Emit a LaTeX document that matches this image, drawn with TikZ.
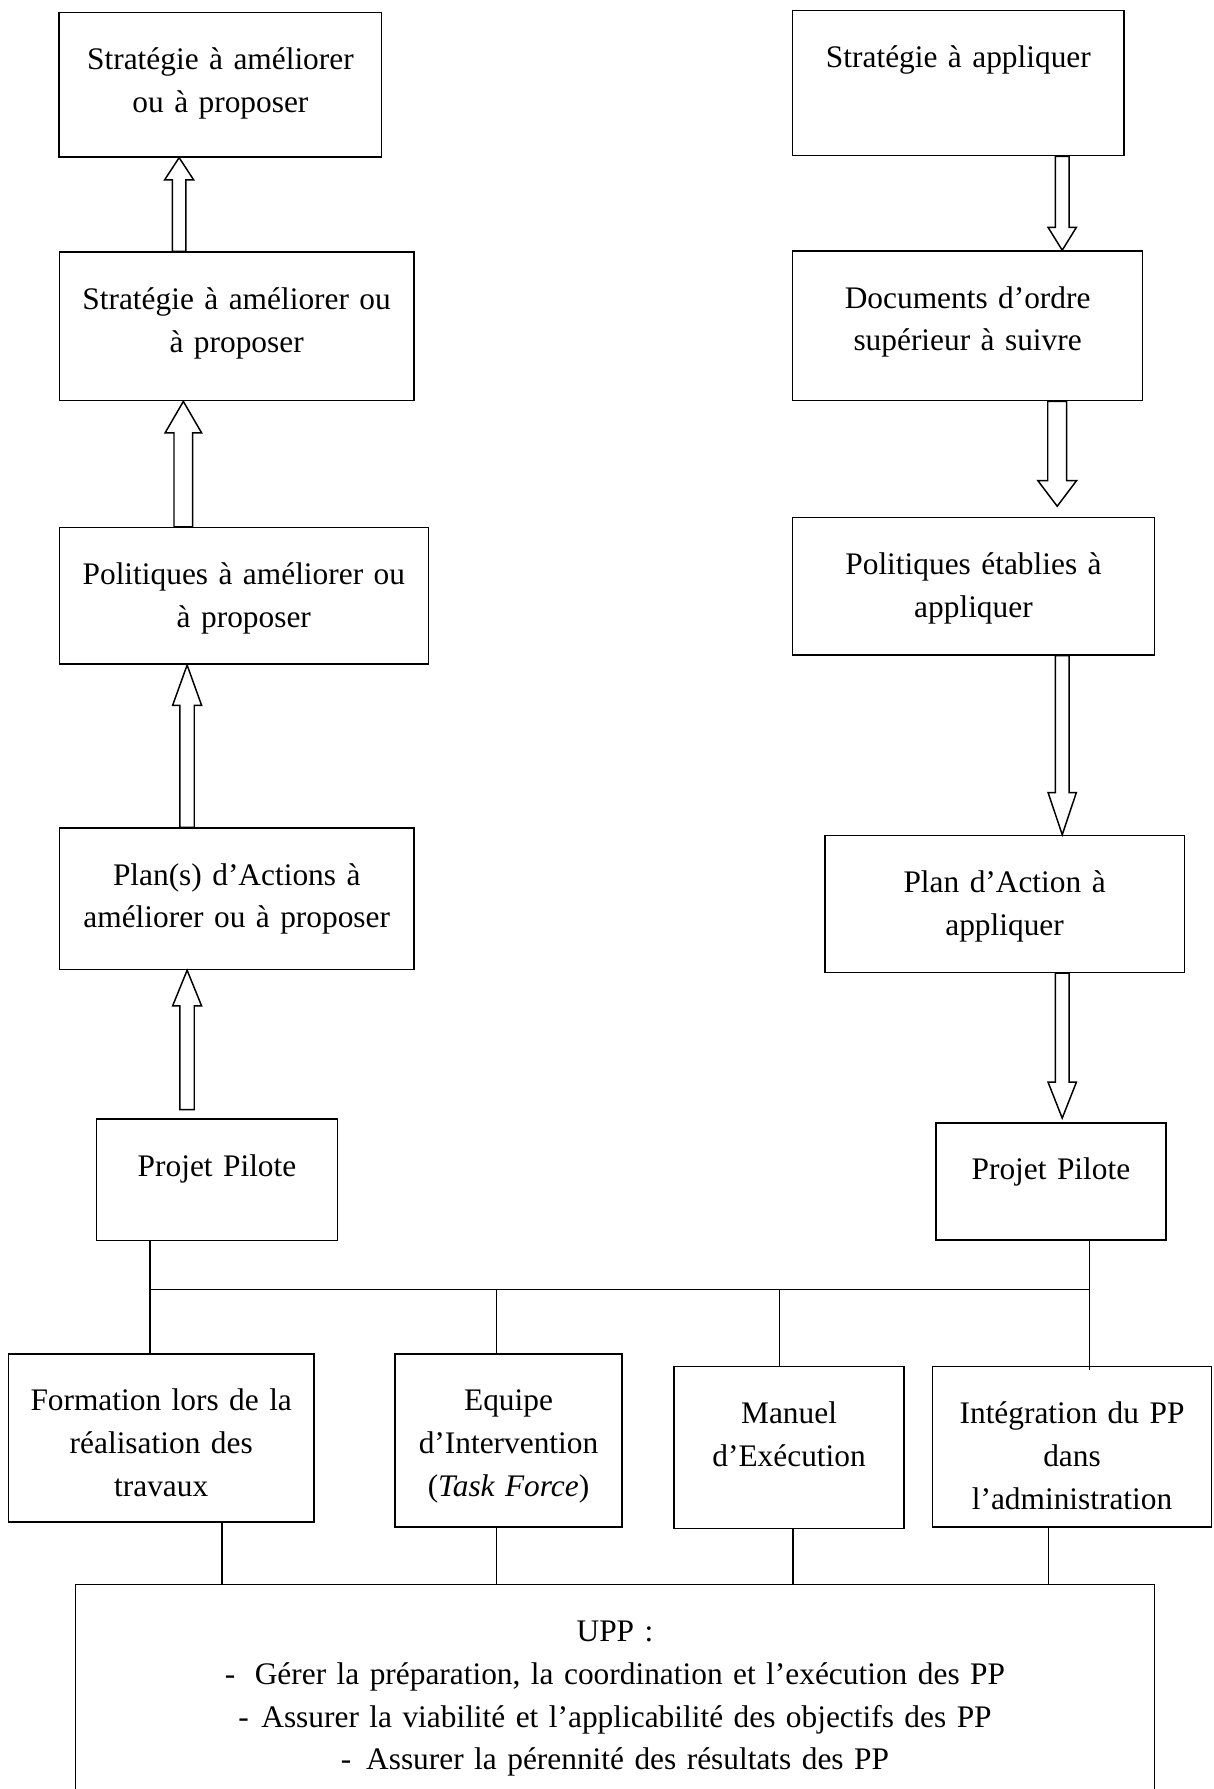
\documentclass[tikz,border=0pt]{standalone}
\usepackage{fontspec}
\setmainfont{Liberation Serif}
\usepackage{xcolor}
\usepackage{tikz}
\usetikzlibrary{calc, positioning}

\newcommand{\fatarrow}[5]{%
    \draw[fat] let \p1=(#1), \p2=(#2), \n1={sign(\y2-\y1)} in
        (\x1-#3pt,\y1) -- (\x1-#3pt,\y2-\n1*#5pt) -- (\x1-#4pt,\y2-\n1*#5pt) -- (\x1,\y2)
        -- (\x1+#4pt,\y2-\n1*#5pt) -- (\x1+#3pt,\y2-\n1*#5pt) -- (\x1+#3pt,\y1) -- cycle;}

\begin{document}
\begin{tikzpicture}[x=1pt, y=-1pt,
        box/.style={draw, line width=1.4pt, rectangle, inner sep=0pt, align=center,
                    anchor=north, text height=50pt, font=\fontsize{27.5pt}{37.5pt}\selectfont},
        fat/.style={line width=1.3pt, line join=miter},
        wire/.style={line width=1.2pt}]
        \useasboundingbox (0,0) rectangle (1064,1568);

        \node[box, text width=282.5pt, text depth=76.5pt] (l1) at (193.2,10.3) {Stratégie à améliorer\\ou à proposer};
        \node[box, text width=310.8pt, text depth=80pt] (l2) at (207.4,220.4) {Stratégie à améliorer ou\\à proposer};
        \node[box, text width=323.4pt, text depth=69.7pt] (l3) at (213.7,461.8) {Politiques à améliorer ou\\à proposer};
        \node[box, text width=311pt, text depth=73.9pt] (l4) at (207.5,725.1) {Plan(s) d’Actions à\\améliorer ou à proposer};
        \node[box, text width=210.9pt, text depth=56.4pt] (l5) at (190.2,980.1) {Projet Pilote};

        \node[box, text width=290.7pt, text depth=77.3pt] (r1) at (840,8.4) {Stratégie à appliquer};
        \node[box, text width=306.8pt, text depth=81.1pt] (r2) at (848.1,219.3) {Documents d’ordre\\supérieur à suivre};
        \node[box, text width=317pt, text depth=70.5pt] (r3) at (853.2,452.7) {Politiques établies à\\appliquer};
        \node[box, text width=315pt, text depth=70pt] (r4) at (880.5,731.6) {Plan d’Action à\\appliquer};
        \node[box, text width=201.6pt, text depth=52.7pt] (r5) at (921.1,983.5) {Projet Pilote};

        \node[box, text width=267.6pt, text depth=97.6pt] (b1) at (141.3,1185.9) {Formation lors de la\\réalisation des\\travaux};
        \node[box, text width=198.5pt, text depth=101.5pt] (b2) at (445.7,1185.9) {Equipe\\d’Intervention\\(\textit{Task Force})};
        \node[box, text width=201.7pt, text depth=91.9pt] (b3) at (691.6,1197) {Manuel\\d’Exécution};
        \node[box, text width=244.7pt, text depth=90.4pt] (b4) at (939.6,1197) {Intégration du PP\\dans\\l’administration};

        \node[box, text width=946pt, text depth=165pt] (upp) at (539,1388) {UPP :\\
            -\hspace{17pt}Gérer la préparation, la coordination et l’exécution des PP\\
            -\hspace{11pt}Assurer la viabilité et l’applicabilité des objectifs des PP\\
            -\hspace{13pt}Assurer la pérennité des résultats des PP};

        \fatarrow{[xshift=-50.4pt]l2.north}{l1.south}{5.85}{12.7}{19.4}
        \fatarrow{[xshift=-53pt]l3.north}{l2.south}{8.2}{16}{27.6}
        \fatarrow{[xshift=-43.5pt]l4.north}{l3.south}{6.25}{12.7}{35.3}
        \fatarrow{[xshift=-26.2pt,yshift=7.5pt]l5.north}{l4.south}{6.25}{12.7}{31.2}

        \fatarrow{[xshift=91pt]r1.south}{r2.north}{6}{12.4}{20}
        \fatarrow{[xshift=78.5pt]r2.south}{[yshift=9pt]r3.north}{8.3}{17}{22.5}
        \fatarrow{[xshift=77.8pt]r3.south}{r4.north}{6}{12.4}{37}
        \fatarrow{[xshift=50.5pt]r4.south}{[yshift=3.5pt]r5.north}{6}{12.4}{31.5}

        \coordinate (bl) at (131.5,1130);
        \coordinate (br) at (954.7,1130);
        \draw[wire] (l5.south -| bl) -- (bl) -- (br) -- (r5.south -| br);
        \draw[wire] (bl) -- (b1.north -| bl);
        \foreach \b/\x in {b2/435, b3/683} {
            \coordinate (t\b) at (\x,1130);
            \draw[wire] (t\b) -- (\b.north -| t\b);
        }
        \draw[wire] (br) -- (b4.north -| br) -- ++(0,4);

        \foreach \b/\x in {b1/194.6, b2/435, b3/695, b4/919.2} {
            \coordinate (u\b) at (\x,0);
            \draw[wire] (\b.south -| u\b) -- (upp.north -| u\b);
        }
\end{tikzpicture}
\end{document}
